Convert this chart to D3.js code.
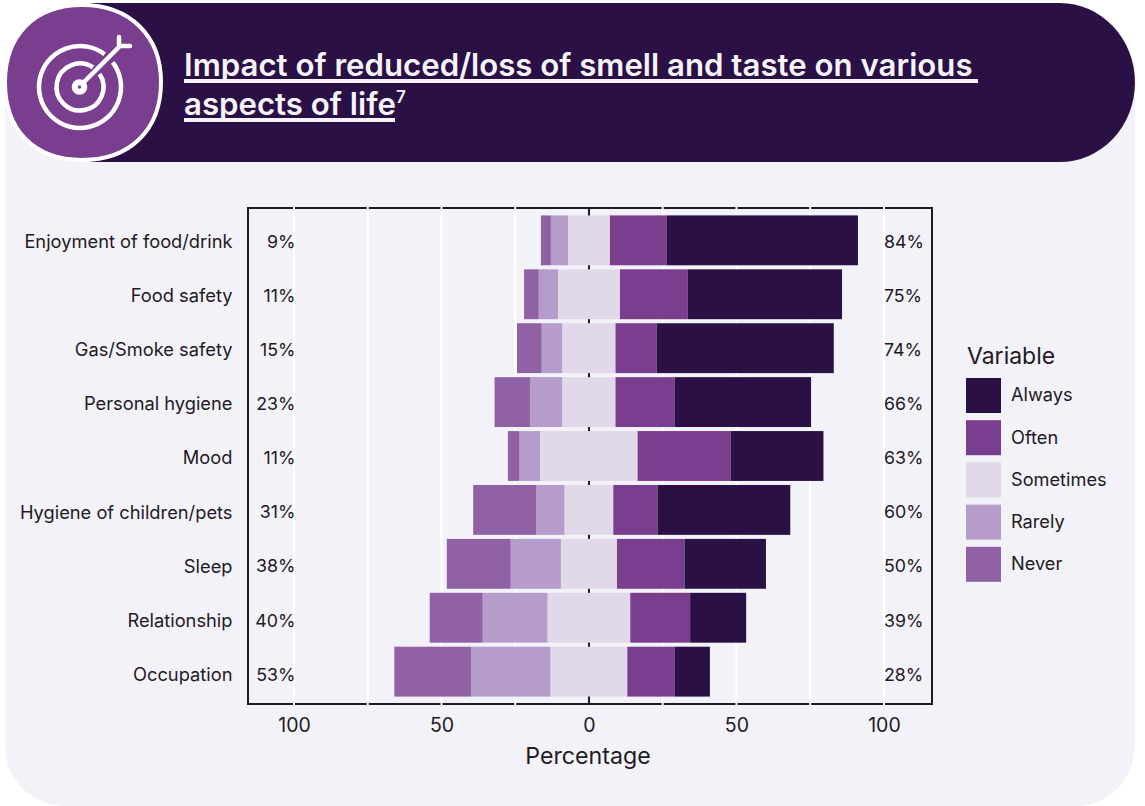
<!DOCTYPE html>
<html>
<head>
<meta charset="utf-8">
<script src="https://cdn.jsdelivr.net/npm/d3@7"></script>
<style>
html,body{margin:0;padding:0;background:#fff}
svg{display:block}
text{font-family:"Inter","Noto Sans",sans-serif;fill:#1f1a24}
</style>
</head>
<body>
<svg id="chart" width="1145" height="806"></svg>
<script>
// Survey responses per aspect of life, percentages by answer.
const categories = ["Enjoyment of food/drink","Food safety","Gas/Smoke safety","Personal hygiene","Mood","Hygiene of children/pets","Sleep","Relationship","Occupation"];
const never     = [3.4, 5.0, 8.4, 12.0, 4.0, 21.5, 21.7, 18.0, 26.0];
const rarely    = [5.8, 6.5, 7.0, 11.0, 7.0, 9.5, 17.0, 22.0, 27.0];
const sometimes = [14.2, 21.0, 18.0, 18.0, 33.0, 16.5, 19.0, 28.0, 26.0];
const often     = [19.3, 23.0, 14.0, 20.0, 31.5, 15.0, 23.0, 20.3, 16.0];
const always    = [64.8, 52.3, 60.0, 46.3, 31.5, 45.0, 27.5, 19.0, 12.0];
const lowLabels  = ["9%","11%","15%","23%","11%","31%","38%","40%","53%"];
const highLabels = ["84%","75%","74%","66%","63%","60%","50%","39%","28%"];
const xTicks = [-100,-50,0,50,100];
const xGrid = [-100,-75,-50,-25,25,50,75,100];
const legendLabels = ["Always","Often","Sometimes","Rarely","Never"];
const legendColors = ["#2a1045","#7a3e8f","#e1d8ea","#b69ccb","#9062a5"];

const svg = d3.select("#chart");
const ink = "#1f1a24";

// Card and header band
svg.append("path").attr("fill","#f3f2f8")
  .attr("d","M5 60H1135V746A60 60 0 0 1 1075 806H65A60 60 0 0 1 5 746Z");
svg.append("path").attr("fill","#2a1045")
  .attr("d","M90 3H1060A75 79.5 0 0 1 1060 162H90Z");

// Round badge with a target icon
const badge = svg.append("g");
badge.append("path").attr("fill","#7a3e8f").attr("stroke","#fff").attr("stroke-width",4)
  .attr("d","M82 5C130 5 161 36 161 82C161 130 130 160 82 160C34 160 5 130 5 82C5 36 34 5 82 5Z");
const icon = badge.append("g").attr("fill","none").attr("stroke","#fff").attr("stroke-width",4.5).attr("stroke-linecap","round");
const ring = (r,gap) => d3.arc().innerRadius(r).outerRadius(r)
  .startAngle(Math.PI/4+gap).endAngle(Math.PI/4+2*Math.PI-gap)();
const ringG = icon.append("g").attr("transform","translate(80,87)");
ringG.append("path").attr("d",ring(41,0.14));
ringG.append("path").attr("d",ring(23.5,0.2));
icon.append("circle").attr("cx",79.5).attr("cy",87).attr("r",4.8).attr("stroke-width",6);
icon.append("path").attr("d","M84 82L120 46M119 37V46H130");

// Title
const titleG = svg.append("g").style("font-weight",600).style("font-size","31.2px");
titleG.append("text").attr("x",184).attr("y",76).style("fill","#f6f4f8").text("Impact of reduced/loss of smell and taste on various");
const line2 = titleG.append("text").attr("x",184).attr("y",115).style("fill","#f6f4f8").text("aspects of life");
line2.append("tspan").attr("dy",-12).style("font-size","17px").style("fill","#f6f4f8").text("7");
svg.append("rect").attr("x",184).attr("y",79).attr("width",794).attr("height",4).attr("fill","#f6f4f8");
svg.append("rect").attr("x",184).attr("y",118).attr("width",211).attr("height",4).attr("fill","#f6f4f8");

// Scales
const x = d3.scaleLinear().domain([-115.6,116.3]).range([248,932]);
const y = d3.scaleBand().domain(categories).range([208,704]).paddingInner(0.075).paddingOuter(0.1375);
const yLabel = d3.scaleBand().domain(categories).range([209.2,706.9]).paddingInner(0).paddingOuter(0.1);

// Panel frame sits under the grid, so the grid cuts through it
svg.append("rect").attr("x",248).attr("y",208).attr("width",684).attr("height",496)
  .attr("fill","none").attr("stroke",ink).attr("stroke-width",2);
svg.append("g").selectAll("line").data(xGrid).join("line")
  .attr("x1",d=>x(d)).attr("x2",d=>x(d)).attr("y1",206).attr("y2",706)
  .attr("stroke","#fff").attr("stroke-width",2);
svg.append("line").attr("x1",x(0)).attr("x2",x(0)).attr("y1",207).attr("y2",705)
  .attr("stroke",ink).attr("stroke-width",2);

// Diverging stacks: "sometimes" straddles zero
const rows = categories.map((c,i)=>{
  const s = sometimes[i]/2;
  return [
    {c, k:4, a:-s-rarely[i]-never[i], b:-s-rarely[i]},
    {c, k:3, a:-s-rarely[i], b:-s},
    {c, k:2, a:-s, b:s},
    {c, k:1, a:s, b:s+often[i]},
    {c, k:0, a:s+often[i], b:s+often[i]+always[i]}
  ];
}).flat();
svg.append("g").selectAll("rect").data(rows).join("rect")
  .attr("x",d=>x(d.a)).attr("width",d=>x(d.b)-x(d.a))
  .attr("y",d=>y(d.c)).attr("height",y.bandwidth())
  .attr("fill",d=>legendColors[d.k]);

// Row labels and percent labels at both sides
const rowY = c => yLabel(c)+yLabel.bandwidth()/2;
svg.append("g").selectAll("text").data(categories).join("text")
  .attr("x",232.5).attr("y",d=>rowY(d)).attr("dy","0.35em")
  .attr("text-anchor","end").style("font-size","18.3px").text(d=>d);
svg.append("g").selectAll("text").data(lowLabels).join("text")
  .attr("x",x(-100)+1.5).attr("y",(d,i)=>rowY(categories[i])).attr("dy","0.35em")
  .attr("text-anchor","end").style("font-size","17.8px").text(d=>d);
svg.append("g").selectAll("text").data(highLabels).join("text")
  .attr("x",x(100)).attr("y",(d,i)=>rowY(categories[i])).attr("dy","0.35em")
  .style("font-size","17.8px").text(d=>d);

// X axis labels
const xAxis = d3.axisBottom(x).tickValues(xTicks).tickFormat(d=>Math.abs(d)).tickSize(0).tickPadding(0);
const axisG = svg.append("g").attr("transform","translate(0,718)").call(xAxis);
axisG.select(".domain").remove();
axisG.selectAll("text").style("font-size","19.5px").style("fill",ink).style("font-family",'"Inter","Noto Sans",sans-serif');
svg.append("text").attr("x",x(0)-1).attr("y",764).attr("text-anchor","middle").style("font-size","23.2px").text("Percentage");

// Legend
svg.append("text").attr("x",967).attr("y",364).style("font-size","23px").text("Variable");
const leg = svg.append("g").selectAll("g").data(legendLabels).join("g")
  .attr("transform",(d,i)=>`translate(966,${378+i*42.2})`);
leg.append("rect").attr("width",35).attr("height",35).attr("fill",(d,i)=>legendColors[i]);
leg.append("text").attr("x",45).attr("y",17).attr("dy","0.35em").style("font-size","18.2px").text(d=>d);
</script>
</body>
</html>
